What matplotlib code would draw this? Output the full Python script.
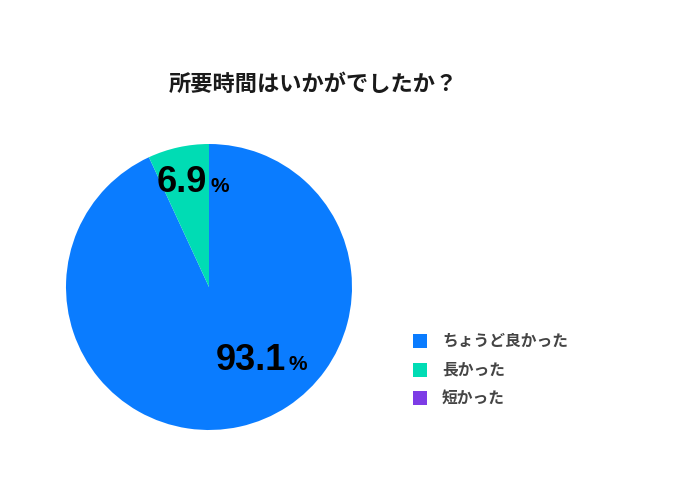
import matplotlib
matplotlib.use("Agg")
import matplotlib.pyplot as plt
from matplotlib.patches import Rectangle

# data
categories = ["ちょうど良かった", "長かった", "短かった"]
values = [93.1, 6.9, 0.0]
colors = ["#0A7CFF", "#00DCB4", "#7D3CE6"]
title = "所要時間はいかがでしたか？"

jp = ["Noto Sans CJK JP", "DejaVu Sans"]
num_font = ["Liberation Sans", "DejaVu Sans"]

fig = plt.figure(figsize=(6.8, 4.8), dpi=100)
W, H = 680, 480

# pie centred at (209, 287) px, radius 143 px
cx, cy, r = 209, 287, 143
ax = fig.add_axes([(cx - r) / W, 1 - (cy + r) / H, 2 * r / W, 2 * r / H])
ax.pie(values, colors=colors, startangle=90, counterclock=False,
       radius=1.0, wedgeprops=dict(linewidth=0))
ax.set_xlim(-1, 1)
ax.set_ylim(-1, 1)
ax.axis("off")

# percentage labels (position in data coords of the pie)
label_pos = [(0.538, -0.58), (-0.014, 0.664)]
for (x, y), v in zip(label_pos, values[:2]):
    ax.text(x, y, f"{v:.1f}", ha="right", va="baseline", fontsize=26,
            fontweight="bold", family=num_font, color="black")
    ax.text(x + 0.021, y, "%", ha="left", va="baseline", fontsize=15,
            fontweight="bold", family=num_font, color="black")

# title
fig.text(313 / W, 1 - 84 / H, title, ha="center", va="center",
         fontsize=16, fontweight="bold", family=jp, color="#1a1a1a")

# legend
for i, (cat, col) in enumerate(zip(categories, colors)):
    ytop = 334 + i * 28.5
    fig.patches.append(Rectangle((413 / W, 1 - (ytop + 14) / H), 14 / W, 14 / H,
                                 facecolor=col, edgecolor="none",
                                 transform=fig.transFigure))
    fig.text(442 / W, 1 - (ytop + 7) / H, cat, ha="left", va="center",
             fontsize=11.3, fontweight="bold", family=jp, color="#444444")

fig.savefig("out.png", dpi=100)
